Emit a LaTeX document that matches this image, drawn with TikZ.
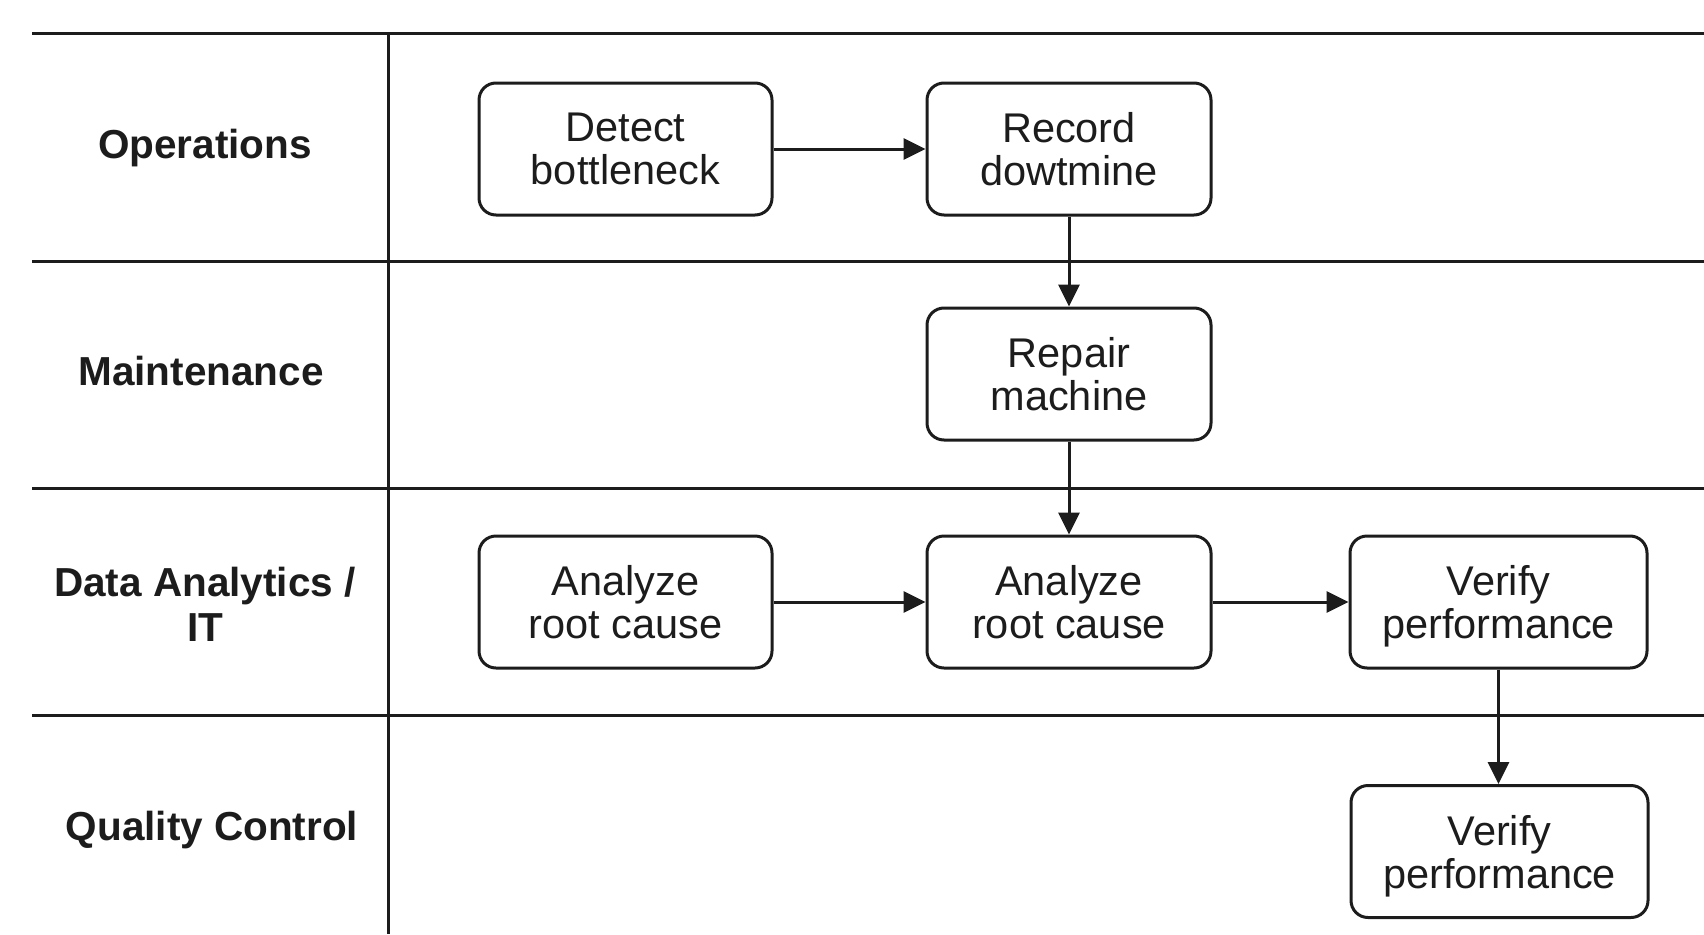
\documentclass[tikz,border=0pt]{standalone}
\usepackage{fontspec}
\setmainfont{Liberation Sans}
\usetikzlibrary{arrows.meta}
\definecolor{ink}{HTML}{1C1C1C}
\tikzset{
  lane/.style={draw=ink, line width=3pt},
  stepbox/.style={draw=ink, line width=3pt, rounded corners=17pt, fill=white,
    minimum width=#1, minimum height=132pt, align=center, text=ink,
    font=\fontsize{41.5}{43}\selectfont, inner sep=0pt, text depth=0pt},
  stepbox/.default=293pt,
  lanelabel/.style={align=center, text=ink, font=\fontsize{40.5}{45}\selectfont\bfseries},
  flow/.style={draw=ink, line width=3pt, -{Triangle[length=22pt,width=21pt]}}
}
\begin{document}
\begin{tikzpicture}[x=1pt,y=-1pt]
  \useasboundingbox (0,0) rectangle (1704,934);
  % swimlane grid
  \foreach \yy in {34,261,488,715}
    \draw[lane] (32,\yy) -- (1704,\yy);
  \draw[lane] (388,34) -- (388,934);
  % lane titles
  \node[lanelabel] (lops) at (205,148) {Operations};
  \node[lanelabel] (lmnt) at (201,371) {Maintenance};
  \node[lanelabel] (ldat) at (205,604) {Data Analytics /\\IT};
  \node[lanelabel] (lqc)  at (212,830) {Quality Control};
  % process steps
  \node[stepbox] (detect) at (625.5,149) {Detect\\bottleneck};
  \node[stepbox=284pt] (record) at (1069,149) {Record\\dowtmine};
  \node[stepbox=284pt] (repair) at (1069,374) {Repair\\machine};
  \node[stepbox] (anaA) at (625.5,602) {Analyze\\root cause};
  \node[stepbox=284pt] (anaB) at (1069,602) {Analyze\\root cause};
  \node[stepbox=297pt] (verA) at (1498.5,602) {Verify\\performance};
  \node[stepbox=297pt] (verB) at (1499.5,851.5) {Verify\\performance};
  % connectors
  \draw[flow] (detect) -- (record);
  \draw[flow] (record) -- (repair);
  \draw[flow] (repair) -- (anaB);
  \draw[flow] (anaA) -- (anaB);
  \draw[flow] (anaB) -- (verA);
  \draw[flow] (verA.south) -- (verB.north -| verA.south);
\end{tikzpicture}
\end{document}
